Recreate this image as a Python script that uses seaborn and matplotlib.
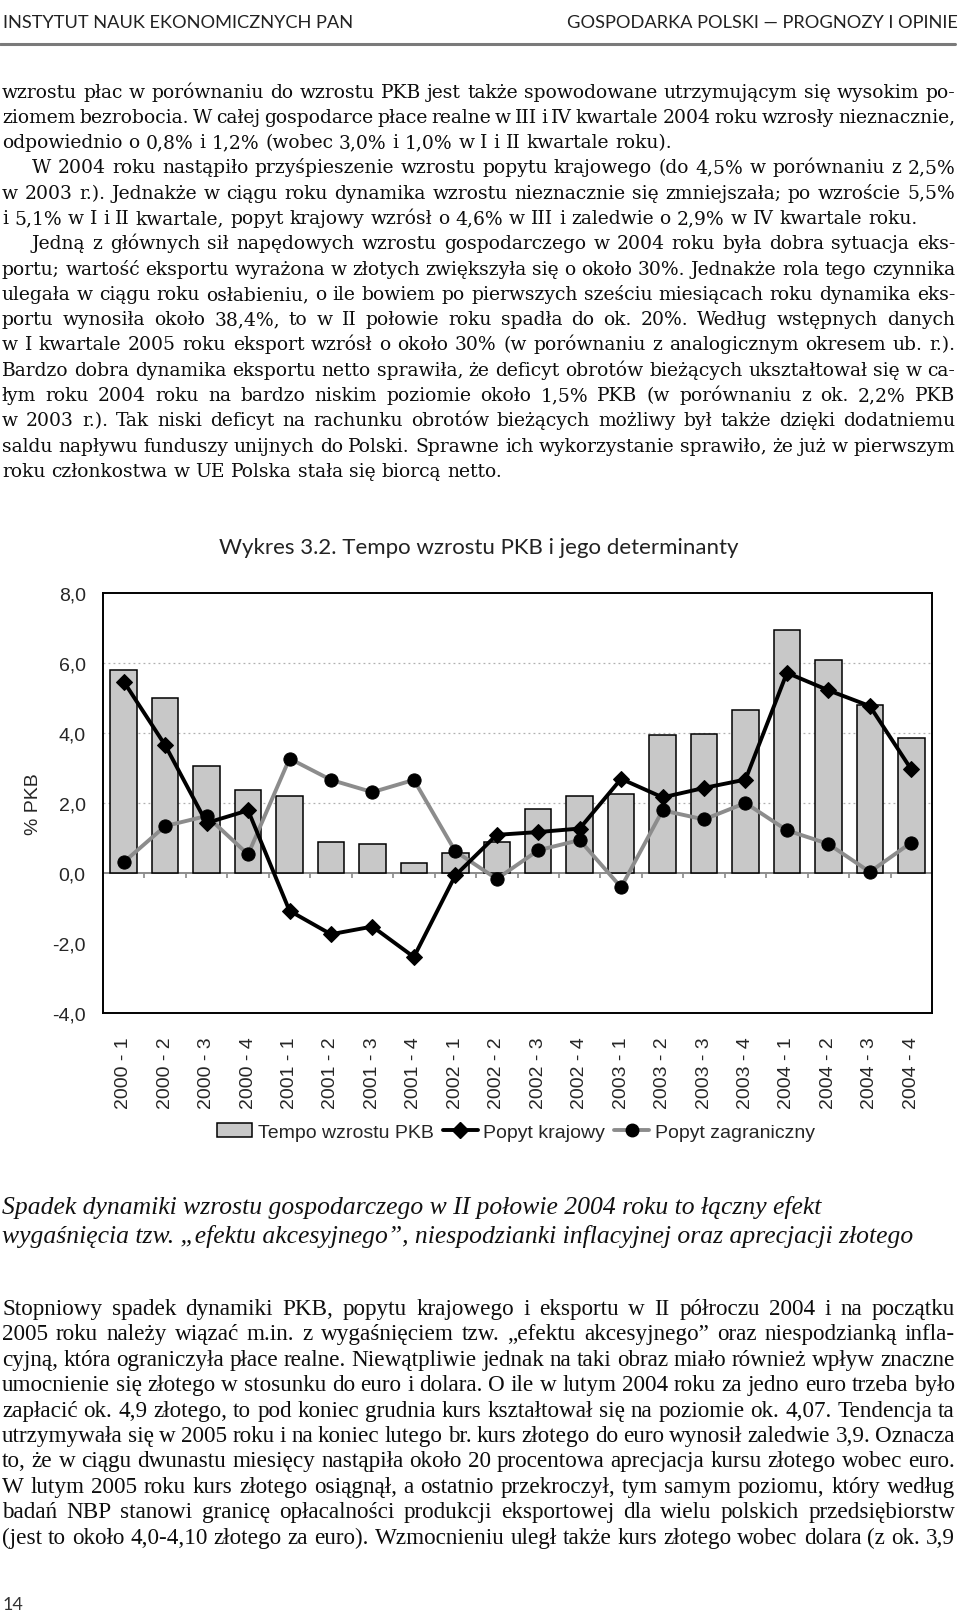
import numpy as np
import pandas as pd
import matplotlib
matplotlib.use("Agg")
import matplotlib.pyplot as plt
import seaborn as sns
from matplotlib.patches import Patch
from matplotlib.lines import Line2D

# ---------------- data ----------------
quarters = ["2000 - 1", "2000 - 2", "2000 - 3", "2000 - 4",
            "2001 - 1", "2001 - 2", "2001 - 3", "2001 - 4",
            "2002 - 1", "2002 - 2", "2002 - 3", "2002 - 4",
            "2003 - 1", "2003 - 2", "2003 - 3", "2003 - 4",
            "2004 - 1", "2004 - 2", "2004 - 3", "2004 - 4"]
pkb = [5.8, 5.0, 3.06, 2.36, 2.2, 0.9, 0.83, 0.29, 0.57, 0.9,
       1.82, 2.2, 2.26, 3.93, 3.97, 4.65, 6.95, 6.09, 4.8, 3.86]
krajowy = [5.47, 3.65, 1.43, 1.79, -1.08, -1.75, -1.53, -2.4, -0.07, 1.09,
           1.17, 1.27, 2.69, 2.16, 2.43, 2.67, 5.72, 5.22, 4.77, 2.96]
zagraniczny = [0.31, 1.34, 1.63, 0.53, 3.27, 2.66, 2.31, 2.66, 0.62, -0.17,
               0.65, 0.94, -0.41, 1.79, 1.53, 2.0, 1.22, 0.83, 0.03, 0.87]
yticks = [-4, -2, 0, 2, 4, 6, 8]
series_names = ["Tempo wzrostu PKB", "Popyt krajowy", "Popyt zagraniczny"]
chart_title = "Wykres 3.2. Tempo wzrostu PKB i jego determinanty"
y_label = "% PKB"

header_left = "INSTYTUT NAUK EKONOMICZNYCH PAN"
header_right = "GOSPODARKA POLSKI \u2014 PROGNOZY I OPINIE"
page_number = "14"

# (text, indent, justified)
top_lines = [
    ("wzrostu płac w porównaniu do wzrostu PKB jest także spowodowane utrzymującym się wysokim po-", 0, True),
    ("ziomem bezrobocia. W całej gospodarce płace realne w III i IV kwartale 2004 roku wzrosły nieznacznie,", 0, True),
    ("odpowiednio o 0,8% i 1,2% (wobec 3,0% i 1,0% w I i II kwartale roku).", 0, False),
    ("W 2004 roku nastąpiło przyśpieszenie wzrostu popytu krajowego (do 4,5% w porównaniu z 2,5%", 30, True),
    ("w 2003 r.). Jednakże w ciągu roku dynamika wzrostu nieznacznie się zmniejszała; po wzroście 5,5%", 0, True),
    ("i 5,1% w I i II kwartale, popyt krajowy wzrósł o 4,6% w III i zaledwie o 2,9% w IV kwartale roku.", 0, False),
    ("Jedną z głównych sił napędowych wzrostu gospodarczego w 2004 roku była dobra sytuacja eks-", 30, True),
    ("portu; wartość eksportu wyrażona w złotych zwiększyła się o około 30%. Jednakże rola tego czynnika", 0, True),
    ("ulegała w ciągu roku osłabieniu, o ile bowiem po pierwszych sześciu miesiącach roku dynamika eks-", 0, True),
    ("portu wynosiła około 38,4%, to w II połowie roku spadła do ok. 20%. Według wstępnych danych", 0, True),
    ("w I kwartale 2005 roku eksport wzrósł o około 30% (w porównaniu z analogicznym okresem ub. r.).", 0, True),
    ("Bardzo dobra dynamika eksportu netto sprawiła, że deficyt obrotów bieżących ukształtował się w ca-", 0, True),
    ("łym roku 2004 roku na bardzo niskim poziomie około 1,5% PKB (w porównaniu z ok. 2,2% PKB", 0, True),
    ("w 2003 r.). Tak niski deficyt na rachunku obrotów bieżących możliwy był także dzięki dodatniemu", 0, True),
    ("saldu napływu funduszy unijnych do Polski. Sprawne ich wykorzystanie sprawiło, że już w pierwszym", 0, True),
    ("roku członkostwa w UE Polska stała się biorcą netto.", 0, False),
]

caption_lines = [
    "Spadek dynamiki wzrostu gospodarczego w II połowie 2004 roku to łączny efekt",
    "wygaśnięcia tzw. „efektu akcesyjnego”, niespodzianki inflacyjnej oraz aprecjacji złotego",
]

bottom_lines = [
    ("Stopniowy spadek dynamiki PKB, popytu krajowego i eksportu w II półroczu 2004 i na początku", 0, True),
    ("2005 roku należy wiązać m.in. z wygaśnięciem tzw. „efektu akcesyjnego” oraz niespodzianką infla-", 0, True),
    ("cyjną, która ograniczyła płace realne. Niewątpliwie jednak na taki obraz miało również wpływ znaczne", 0, True),
    ("umocnienie się złotego w stosunku do euro i dolara. O ile w lutym 2004 roku za jedno euro trzeba było", 0, True),
    ("zapłacić ok. 4,9 złotego, to pod koniec grudnia kurs kształtował się na poziomie ok. 4,07. Tendencja ta", 0, True),
    ("utrzymywała się w 2005 roku i na koniec lutego br. kurs złotego do euro wynosił zaledwie 3,9. Oznacza", 0, True),
    ("to, że w ciągu dwunastu miesięcy nastąpiła około 20 procentowa aprecjacja kursu złotego wobec euro.", 0, True),
    ("W lutym 2005 roku kurs złotego osiągnął, a ostatnio przekroczył, tym samym poziomu, który według", 0, True),
    ("badań NBP stanowi granicę opłacalności produkcji eksportowej dla wielu polskich przedsiębiorstw", 0, True),
    ("(jest to około 4,0-4,10 złotego za euro). Wzmocnieniu uległ także kurs złotego wobec dolara (z ok. 3,9", 0, True),
]

# ---------------- figure ----------------
sns.set_style("white")
plt.rcParams["font.family"] = ["Liberation Sans", "DejaVu Sans"]

W, H = 960, 1615
fig = plt.figure(figsize=(W / 100, H / 100), dpi=100)
fig.patch.set_facecolor("white")
renderer = fig.canvas.get_renderer()


def tw(s, fs, fam, style="normal"):
    t = fig.text(0, 0.5, s, fontsize=fs, family=fam, style=style)
    w = t.get_window_extent(renderer=renderer).width
    t.remove()
    return w


def fit_size(s, width, fam, style="normal"):
    return 10 * width / tw(s, 10, fam, style)


def fit_block(lines, fs, fam, style, right, min_gap):
    sp = tw("a a", fs, fam, style) - tw("aa", fs, fam, style)
    ratio = 1.0
    for text, indent, just in lines:
        if not just:
            continue
        words = text.split()
        ws = sum(tw(w, fs, fam, style) for w in words)
        need = ws + (len(words) - 1) * min_gap * sp
        ratio = min(ratio, (right - 2 - indent) / need)
    return fs * ratio


def place_block(lines, fs, fam, style, right, base0, step, color="#111111"):
    sp = tw("a a", fs, fam, style) - tw("aa", fs, fam, style)
    for i, (text, indent, just) in enumerate(lines):
        words = text.split()
        ws = [tw(w, fs, fam, style) for w in words]
        x = 2 + indent
        if just and len(words) > 1:
            gap = (right - x - sum(ws)) / (len(words) - 1)
        else:
            gap = sp
        yb = base0 + i * step
        for w, wd in zip(words, ws):
            fig.text(x / W, 1 - yb / H, w, fontsize=fs, family=fam, style=style,
                     ha="left", va="baseline", color=color)
            x += wd + gap


# ---- header ----
hfam = "Lato"
fs_hl = fit_size(header_left, 349, hfam)
fs_hr = fit_size(header_right, 399, hfam)
fs_h = min(fs_hl, fs_hr)
fig.text(3 / W, 1 - 28 / H, header_left, fontsize=fs_h, family=hfam,
         ha="left", va="baseline", color="#222222")
fig.text(958 / W, 1 - 28 / H, header_right, fontsize=fs_h, family=hfam,
         ha="right", va="baseline", color="#222222")
fig.add_artist(Line2D([0, 955 / W], [1 - 45 / H] * 2, color="#7a7a7a", lw=2.2))

# ---- top body text ----
bfam = "DejaVu Serif"
fs_b = fit_size(top_lines[5][0], 920, bfam)
fs_b = fit_block(top_lines, fs_b, bfam, "normal", 955, 0.5)
place_block(top_lines, fs_b, bfam, "normal", 955, 97.5, 25.3, color="#0d0d0d")

# ---- chart title ----
tfam = "Lato"
fs_t = fit_size(chart_title, 520, tfam)
fig.text(479 / W, 1 - 548 / H, chart_title, fontsize=fs_t, family=tfam,
         ha="center", va="center", color="#222222")

# ---- chart ----
ax = fig.add_axes([103 / W, 1 - 1014 / H, 829 / W, 420 / H])
xi = np.arange(len(quarters))
df = pd.DataFrame({"x": xi, "kwartal": quarters, "pkb": pkb,
                   "krajowy": krajowy, "zagraniczny": zagraniczny})

for v in yticks:
    if 0 < v < yticks[-1]:
        ax.axhline(v, color="#b0b0b0", lw=0.9, ls=(0, (1.5, 2.5)), zorder=0)

sns.barplot(data=df, x="x", y="pkb", native_scale=True, orient="x",
            color="#c8c8c8", saturation=1, edgecolor="black", linewidth=1.1,
            width=0.64, ax=ax, zorder=2)
ax.axhline(0, color="#8a8a8a", lw=1.4, zorder=1.5)
ax.vlines(xi[:-1] + 0.5, -0.15, 0, color="#8a8a8a", lw=1.2, zorder=1.5)

sns.lineplot(data=df, x="x", y="zagraniczny", color="#8c8c8c", lw=2.8,
             marker="o", markersize=9.5, markerfacecolor="black",
             markeredgecolor="black", ax=ax, zorder=3, legend=False)
sns.lineplot(data=df, x="x", y="krajowy", color="black", lw=2.8,
             marker="D", markersize=8, markerfacecolor="black",
             markeredgecolor="black", ax=ax, zorder=4, legend=False)

cfs = 14
ax.set_xlim(-0.5, len(quarters) - 0.5)
ax.set_ylim(yticks[0], yticks[-1])
ax.set_xticks(xi)
ax.set_xticklabels(quarters, rotation=90, fontsize=cfs)
ax.set_yticks(yticks)
ax.set_yticklabels([f"{v:.1f}".replace(".", ",") for v in yticks], fontsize=cfs)
ax.tick_params(axis="x", length=0, pad=17)
ax.tick_params(axis="y", length=4.5, width=1.1, pad=8, color="black")
ax.set_xlabel("")
ax.set_ylabel(y_label, fontsize=cfs)
ax.yaxis.set_label_coords(-0.074, 0.5)
for s in ax.spines.values():
    s.set_visible(True)
    s.set_color("black")
    s.set_linewidth(1.4)
ax.set_facecolor("white")
ax.grid(False)

handles = [
    Patch(facecolor="#c8c8c8", edgecolor="black", linewidth=1.1),
    Line2D([], [], color="black", lw=2.8, marker="D", markersize=8),
    Line2D([], [], color="#8c8c8c", lw=2.8, marker="o", markersize=9,
           markerfacecolor="black", markeredgecolor="black"),
]
fig.legend(handles, series_names, loc="center",
           bbox_to_anchor=(516 / W, 1 - 1133 / H), ncol=3, frameon=False,
           fontsize=cfs, handlelength=1.8, handletextpad=0.3,
           columnspacing=0.45)

# ---- caption ----
cfam = "Liberation Serif"
fs_c = fit_size(caption_lines[1], 913, cfam, "italic")
for i, line in enumerate(caption_lines):
    fig.text(2 / W, 1 - (1214 + i * 29) / H, line, fontsize=fs_c, family=cfam,
             style="italic", ha="left", va="baseline", color="#111111")

# ---- bottom text ----
fs_bb = fit_block(bottom_lines, 20, cfam, "normal", 955, 0.9)
place_block(bottom_lines, fs_bb, cfam, "normal", 955, 1315, 25.4, color="#0d0d0d")

# ---- page number ----
fig.text(3 / W, 1 - 1610 / H, page_number, fontsize=13, family="Lato",
         ha="left", va="baseline", color="#333333")

fig.savefig("out.png", dpi=100, facecolor="white")
